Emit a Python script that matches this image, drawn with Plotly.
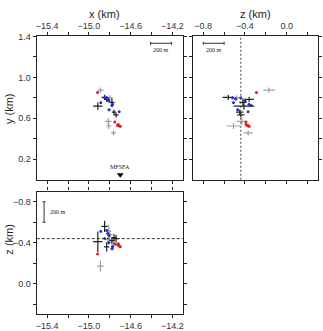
import plotly.graph_objects as go

# ---------------- data ----------------
# gray events (x, y, z in km) with uncertainties
gray_x = [-14.89, -14.815, -14.81, -14.765, -14.80]
gray_y = [0.875, 0.57, 0.525, 0.458, 0.80]
gray_z = [-0.17, -0.43, -0.51, -0.37, -0.48]
gray_ex = [0.03, 0.03, 0.025, 0.025, 0.025]
gray_ey = [0.025, 0.035, 0.03, 0.025, 0.025]
gray_ez = [0.055, 0.045, 0.065, 0.045, 0.035]

# black events
black_x = [-14.85, -14.915, -14.78, -14.83, -14.74, -14.76]
black_y = [0.805, 0.72, 0.755, 0.785, 0.633, 0.66]
black_z = [-0.56, -0.41, -0.42, -0.36, -0.44, -0.45]
black_ex = [0.03, 0.045, 0.025, 0.025, 0.025, 0.02]
black_ey = [0.025, 0.035, 0.04, 0.025, 0.025, 0.025]
black_ez = [0.055, 0.1, 0.035, 0.045, 0.035, 0.035]

# blue events
blue_x = [-14.83, -14.82, -14.886, -14.774, -14.78, -14.807, -14.71, -14.81, -14.85]
blue_y = [0.80, 0.79, 0.752, 0.736, 0.724, 0.683, 0.664, 0.77, 0.80]
blue_z = [-0.52, -0.49, -0.51, -0.36, -0.34, -0.47, -0.37, -0.40, -0.44]
blue_e = [0.015, 0.015, 0.012, 0.015, 0.012, 0.015, 0.012, 0.015, 0.012]

# red events
red_x = [-14.917, -14.752, -14.725, -14.715, -14.70, -14.72]
red_y = [0.852, 0.565, 0.532, 0.528, 0.522, 0.54]
red_z = [-0.29, -0.39, -0.38, -0.37, -0.36, -0.39]
red_e = [0.01, 0.01, 0.01, 0.01, 0.01, 0.01]

ref_depth = -0.44          # dashed reference depth
station_name = "MFSFA"
station_x = -14.70
scale_km = 0.2
scale_label = "200 m"

x_ticks = [-15.4, -15.2, -15.0, -14.8, -14.6, -14.4, -14.2]
x_labels = ["\u221215.4", "", "\u221215.0", "", "\u221214.6", "", "\u221214.2"]
y_ticks = [0.2, 0.4, 0.6, 0.8, 1.0, 1.2, 1.4]
y_labels = ["0.2", "", "0.6", "", "1.0", "", "1.4"]
z_ticks = [-0.8, -0.6, -0.4, -0.2, 0.0, 0.2]
z_labels = ["\u22120.8", "", "\u22120.4", "", "0.0", ""]

X_RANGE = [-15.5, -14.1]
Y_RANGE = [0.0, 1.4]
Z_RANGE = [-0.9, 0.3]

GRAY = "#a0a0a0"
BLACK = "#222222"
BLUE = "#2a2ad0"
RED = "#e02020"

fig = go.Figure()

def add_events(px, py, ex, ey, color, xa, ya, msize, thick):
    fig.add_trace(go.Scatter(
        x=px, y=py, mode="markers", xaxis=xa, yaxis=ya,
        marker=dict(size=msize, color=color, line=dict(width=0)),
        error_x=dict(type="data", array=ex, width=0, thickness=thick, color=color),
        error_y=dict(type="data", array=ey, width=0, thickness=thick, color=color),
        showlegend=False, hoverinfo="skip"))

panels = [
    ("x", "y", gray_x, gray_y, gray_ex, gray_ey, black_x, black_y, black_ex, black_ey,
     blue_x, blue_y, red_x, red_y),
    ("x2", "y2", gray_z, gray_y, gray_ez, gray_ey, black_z, black_y, black_ez, black_ey,
     blue_z, blue_y, red_z, red_y),
    ("x3", "y3", gray_x, gray_z, gray_ex, gray_ez, black_x, black_z, black_ex, black_ez,
     blue_x, blue_z, red_x, red_z),
]
for (xa, ya, gx, gy, gex, gey, bx, by, bex, bey, lx, ly, rx, ry) in panels:
    add_events(gx, gy, gex, gey, GRAY, xa, ya, 1, 1.2)
    add_events(bx, by, bex, bey, BLACK, xa, ya, 1, 1.2)
    add_events(lx, ly, blue_e, blue_e, BLUE, xa, ya, 2.8, 1)
    add_events(rx, ry, red_e, red_e, RED, xa, ya, 3, 1)

# station marker
fig.add_trace(go.Scatter(x=[station_x], y=[Y_RANGE[0] + 0.05], mode="markers",
                         xaxis="x", yaxis="y",
                         marker=dict(symbol="triangle-down", size=6, color="black"),
                         showlegend=False, hoverinfo="skip"))

shapes = []
annotations = []
serif = dict(family="Liberation Serif, DejaVu Serif, serif", size=6, color="#222")

# reference depth lines
shapes.append(dict(type="line", xref="x2", yref="y2", x0=ref_depth, x1=ref_depth,
                   y0=Y_RANGE[0], y1=Y_RANGE[1], line=dict(color="#444", width=1, dash="2px,2px")))
shapes.append(dict(type="line", xref="x3", yref="y3", y0=ref_depth, y1=ref_depth,
                   x0=X_RANGE[0], x1=X_RANGE[1], line=dict(color="#333", width=1, dash="3px,2px")))

def hbar(xref, yref, x0, y, cap):
    shapes.append(dict(type="line", xref=xref, yref=yref, x0=x0, x1=x0 + scale_km, y0=y, y1=y,
                       line=dict(color="#333", width=1)))
    for xx in (x0, x0 + scale_km):
        shapes.append(dict(type="line", xref=xref, yref=yref, x0=xx, x1=xx, y0=y - cap, y1=y + cap,
                           line=dict(color="#333", width=1)))
    annotations.append(dict(xref=xref, yref=yref, x=x0 + scale_km / 2, y=y - 0.065,
                            text=scale_label, showarrow=False, font=serif))

hbar("x", "y", X_RANGE[1] - 0.31, Y_RANGE[1] - 0.067, 0.015)
hbar("x2", "y2", Z_RANGE[0] + 0.1, Y_RANGE[1] - 0.067, 0.015)

# vertical scale bar in bottom panel
bx0 = X_RANGE[0] + 0.07
bz0 = Z_RANGE[0] + 0.1
shapes.append(dict(type="line", xref="x3", yref="y3", x0=bx0, x1=bx0, y0=bz0, y1=bz0 + scale_km,
                   line=dict(color="#333", width=1)))
for zz in (bz0, bz0 + scale_km):
    shapes.append(dict(type="line", xref="x3", yref="y3", x0=bx0 - 0.015, x1=bx0 + 0.015, y0=zz, y1=zz,
                       line=dict(color="#333", width=1)))
annotations.append(dict(xref="x3", yref="y3", x=bx0 + 0.13, y=bz0 + scale_km / 2,
                        text=scale_label, showarrow=False, font=serif))

annotations.append(dict(xref="x", yref="y", x=station_x, y=Y_RANGE[0] + 0.125,
                        text=station_name, showarrow=False, font=serif))

W, H = 323, 331
title_font = dict(family="Liberation Sans, Arial, sans-serif", size=11, color="#222")
annotations += [
    dict(xref="paper", yref="paper", x=104 / W, y=1 - 9 / H, text="x (km)", showarrow=False,
         font=title_font, xanchor="center", yanchor="middle"),
    dict(xref="paper", yref="paper", x=256 / W, y=1 - 9 / H, text="z (km)", showarrow=False,
         font=title_font, xanchor="center", yanchor="middle"),
    dict(xref="paper", yref="paper", x=8 / W, y=1 - 105 / H, text="y (km)", showarrow=False,
         font=title_font, textangle=-90, xanchor="center", yanchor="middle"),
    dict(xref="paper", yref="paper", x=8 / W, y=1 - 238 / H, text="z (km)", showarrow=False,
         font=title_font, textangle=-90, xanchor="center", yanchor="middle"),
]

tick_font = dict(family="Liberation Sans, Arial, sans-serif", size=9, color="#333")
common = dict(showgrid=False, zeroline=False, showline=True, linecolor="#222", linewidth=1.3,
              mirror="allticks", ticks="outside", ticklen=3, tickwidth=1, tickcolor="#222",
              tickfont=tick_font, tickmode="array")

top_dom = [1 - 178 / H, 1 - 32 / H]
bot_dom = [1 - 315 / H, 1 - 190 / H]
left_dom = [36 / W, 183 / W]
right_dom = [193 / W, 319 / W]

fig.update_layout(
    width=W, height=H, margin=dict(l=0, r=0, t=0, b=0),
    paper_bgcolor="white", plot_bgcolor="white",
    xaxis=dict(domain=left_dom, anchor="y", range=X_RANGE, side="top",
               tickvals=x_ticks, ticktext=x_labels, **common),
    yaxis=dict(domain=top_dom, anchor="x", range=Y_RANGE,
               tickvals=y_ticks, ticktext=y_labels, **common),
    xaxis2=dict(domain=right_dom, anchor="y2", range=Z_RANGE, side="top",
                tickvals=z_ticks, ticktext=z_labels, **common),
    yaxis2=dict(domain=top_dom, anchor="x2", range=Y_RANGE, showticklabels=False,
                tickvals=y_ticks, ticktext=y_labels, **common),
    xaxis3=dict(domain=left_dom, anchor="y3", range=X_RANGE, side="bottom",
                tickvals=x_ticks, ticktext=x_labels, **common),
    yaxis3=dict(domain=bot_dom, anchor="x3", range=[Z_RANGE[1], Z_RANGE[0]],
                tickvals=z_ticks, ticktext=z_labels, **common),
    shapes=shapes, annotations=annotations,
)

fig.write_html("out.html")
